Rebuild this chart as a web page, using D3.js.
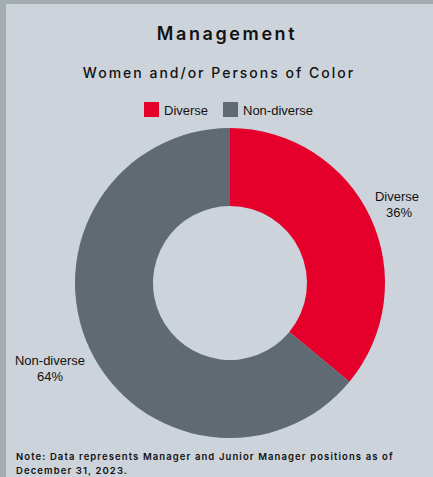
<!DOCTYPE html>
<html>
<head>
<meta charset="utf-8">
<script src="https://cdn.jsdelivr.net/npm/d3@7"></script>
<style>
  body { margin: 0; background: #cdd3da; }
  svg { display: block; }
</style>
</head>
<body>
<div id="chart"></div>
<script>
var width = 433, height = 477;

// data
var categories = ["Diverse", "Non-diverse"];
var values = [36, 64];
var colors = ["#e4002b", "#5f6a72"];
var title = "Management";
var subtitle = "Women and/or Persons of Color";
var noteLines = [
    "Note: Data represents Manager and Junior Manager positions as of",
    "December 31, 2023."
];

var svg = d3.select("#chart").append("svg")
    .attr("width", width)
    .attr("height", height);

// panel + frame
svg.append("rect").attr("x", 0).attr("y", 0).attr("width", width).attr("height", height)
    .attr("fill", "#a3acb0");
svg.append("rect").attr("x", 6).attr("y", 4).attr("width", width - 6).attr("height", height - 4)
    .attr("fill", "#cdd3da");

var font = "Inter, 'Noto Sans', sans-serif";
var labelFont = "'Liberation Sans', Arial, sans-serif";

svg.append("text")
    .text(title)
    .attr("x", 227).attr("y", 40)
    .attr("text-anchor", "middle")
    .attr("font-family", font)
    .attr("font-weight", 600)
    .attr("font-size", 18)
    .attr("letter-spacing", 2.6)
    .attr("fill", "#111");

svg.append("text")
    .text(subtitle)
    .attr("x", 219).attr("y", 78)
    .attr("text-anchor", "middle")
    .attr("font-family", font)
    .attr("font-weight", 500)
    .attr("font-size", 14)
    .attr("letter-spacing", 2.0)
    .attr("fill", "#111");

// legend
var legendX = [144, 223];
var legend = svg.selectAll(".leg")
    .data(categories)
    .enter()
    .append("g")
    .attr("class", "leg")
    .attr("transform", function (d, i) { return "translate(" + legendX[i] + ",102)"; });
legend.append("rect")
    .attr("width", 15).attr("height", 15)
    .attr("fill", function (d, i) { return colors[i]; });
legend.append("text")
    .text(function (d) { return d; })
    .attr("x", 20).attr("y", 12.5)
    .attr("font-family", labelFont)
    .attr("font-size", 13)
    .attr("fill", "#111");

// donut
var cx = 230, cy = 283, outerR = 155, innerR = 77;
var pie = d3.pie().sort(null);
var arc = d3.arc().innerRadius(innerR).outerRadius(outerR);

var g = svg.append("g").attr("transform", "translate(" + cx + "," + cy + ")");
var arcs = pie(values);
g.selectAll("path")
    .data(arcs)
    .enter()
    .append("path")
    .attr("d", arc)
    .attr("fill", function (d, i) { return colors[i]; });

// slice labels
var labelPos = [
    { x: 419, y: 201, anchor: "end" },
    { x: 50, y: 365, anchor: "middle" }
];
var lab = svg.selectAll(".slab")
    .data(arcs)
    .enter()
    .append("text")
    .attr("class", "slab")
    .attr("text-anchor", function (d, i) { return labelPos[i].anchor; })
    .attr("font-family", labelFont)
    .attr("font-size", 13)
    .attr("fill", "#111");
lab.append("tspan")
    .attr("x", function (d, i) { return labelPos[i].x; })
    .attr("y", function (d, i) { return labelPos[i].y; })
    .text(function (d, i) { return categories[i]; });
lab.append("tspan")
    .attr("x", function (d, i) { return labelPos[i].anchor == "end" ? labelPos[i].x - 20 : labelPos[i].x; })
    .attr("y", function (d, i) { return labelPos[i].y + 16; })
    .attr("text-anchor", "middle")
    .text(function (d) { return d.data + "%"; });

// note
svg.selectAll(".note")
    .data(noteLines)
    .enter()
    .append("text")
    .attr("class", "note")
    .text(function (d) { return d; })
    .attr("x", 16)
    .attr("y", function (d, i) { return 460 + i * 14; })
    .attr("font-family", font)
    .attr("font-weight", 600)
    .attr("font-size", 9.5)
    .attr("letter-spacing", 1.1)
    .attr("fill", "#111");
</script>
</body>
</html>
